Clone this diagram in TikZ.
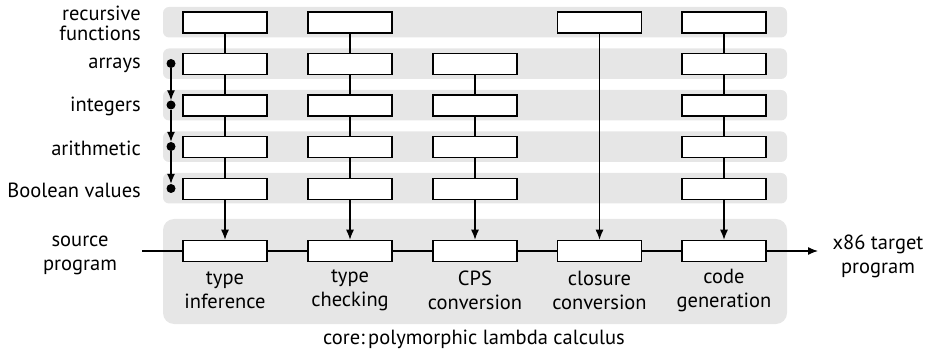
\documentclass[tikz,border=0pt]{standalone}
\usepackage{fontspec}
\setmainfont{PT Sans}
\usetikzlibrary{arrows.meta}
\definecolor{bandgrey}{HTML}{E6E6E6}
\tikzset{
  band/.style={fill=bandgrey, draw=none, rounded corners=6pt},
  coreband/.style={fill=bandgrey, draw=none, rounded corners=11pt},
  pass/.style={draw=black, fill=white, line width=1.5pt, minimum width=84pt, minimum height=21pt, inner sep=0pt},
  conn/.style={line width=1.3pt},
  arr/.style={line width=1.3pt, -{Latex[length=10pt,width=8pt]}},
  feat/.style={circle, fill=black, inner sep=0pt, minimum size=9pt},
  lbl/.style={font=\fontsize{20.5}{20}\selectfont, align=right, anchor=east, inner sep=0pt},
  clbl/.style={font=\fontsize{20.5}{24}\selectfont, align=center, inner sep=0pt},
}
\begin{document}
\begin{tikzpicture}[x=1pt,y=-1pt]
\useasboundingbox (0,0) rectangle (925,352);
% bands
\fill[band] (163,7) rectangle (787,37.5);
\fill[band] (163,48.5) rectangle (787,79);
\fill[band] (163,90) rectangle (787,120.5);
\fill[band] (163,131.5) rectangle (787,162);
\fill[band] (163,173) rectangle (787,203.5);
\fill[coreband] (163,219) rectangle (787,324);
% row labels
\node[lbl] (l1) at (141,23.5) {recursive\\functions};
\node[lbl] (l2) at (141,65) {arrays};
\node[lbl] (l3) at (141,106.5) {integers};
\node[lbl] (l4) at (141,148) {arithmetic};
\node[lbl] (l5) at (141,190) {Boolean values};
% boxes
\foreach \c/\x in {1/225,2/350,5/724}{
  \foreach \r/\y in {1/22.5,2/64,3/105.5,4/147,5/189}{
    \node[pass] (b\r\c) at (\x,\y) {};
  }
}
\foreach \r/\y in {2/64,3/105.5,4/147,5/189}{
  \node[pass] (b\r3) at (475,\y) {};
}
\node[pass] (b14) at (599.5,22.5) {};
% core boxes
\foreach \c/\x in {1/225,2/350,3/475,4/599.5,5/724}{
  \node[pass] (c\c) at (\x,251) {};
}
% vertical connectors
\foreach \c in {1,2,5}{
  \draw[conn] (b1\c) -- (b2\c);
  \draw[conn] (b2\c) -- (b3\c);
  \draw[conn] (b3\c) -- (b4\c);
  \draw[conn] (b4\c) -- (b5\c);
  \draw[arr] (b5\c) -- (c\c);
}
\draw[conn] (b23) -- (b33);
\draw[conn] (b33) -- (b43);
\draw[conn] (b43) -- (b53);
\draw[arr] (b53) -- (c3);
\draw[arr] (b14) -- (c4);
% feature dots
\node[feat] (d2) at (171,63.5) {};
\node[feat] (d3) at (171,105) {};
\node[feat] (d4) at (171,146.5) {};
\node[feat] (d5) at (171,188.5) {};
\draw[arr] (d2) -- (d3);
\draw[arr] (d3) -- (d4);
\draw[arr] (d4) -- (d5);
% main pipeline
\coordinate (src) at (142,251);
\coordinate (tgt) at (818,251);
\draw[conn] (src) -- (c1);
\draw[conn] (c1) -- (c2);
\draw[conn] (c2) -- (c3);
\draw[conn] (c3) -- (c4);
\draw[conn] (c4) -- (c5);
\draw[arr] (c5) -- (tgt);
\node[clbl] (srct) at (80,255) {source\\program};
\node[clbl] (tgtt) at (878,256.5) {x86 target\\program};
% pass labels
\node[clbl] (t1) at (225,290) {type\\inference};
\node[clbl] (t2) at (350,290) {type\\checking};
\node[clbl] (t3) at (475,290) {CPS\\conversion};
\node[clbl] (t4) at (599.5,290) {closure\\conversion};
\node[clbl] (t5) at (724,290) {code\\generation};
\node[clbl] (core) at (474,339) {core:\,polymorphic lambda calculus};
\end{tikzpicture}
\end{document}
